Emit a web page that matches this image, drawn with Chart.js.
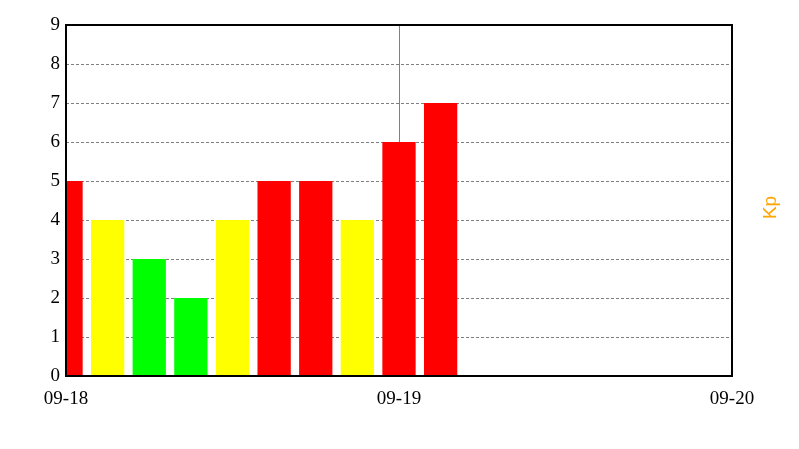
<!DOCTYPE html>
<html>
<head>
<meta charset="utf-8">
<script src="https://cdn.jsdelivr.net/npm/chart.js@4/dist/chart.umd.min.js"></script>
<style>
  body { margin: 0; background: #fff; }
  #wrap { width: 799px; height: 449px; }
</style>
</head>
<body>
<div id="wrap"><canvas id="kpChart" width="799" height="449"></canvas></div>
<script>
// hours since 09-18 00:00, one bar per 3-hour Kp interval
const hours = [0, 3, 6, 9, 12, 15, 18, 21, 24, 27];
const kpValues = [5, 4, 3, 2, 4, 5, 5, 4, 6, 7];
const dateLabels = ['09-18', '09-19', '09-20'];
const yTicks = [0, 1, 2, 3, 4, 5, 6, 7, 8, 9];

function kpColor(v) {
  if (v >= 5) return '#ff0000';
  if (v >= 4) return '#ffff00';
  return '#00ff00';
}

// black frame round the plot + the rotated Kp title on the right
const framePlugin = {
  id: 'frame',
  afterDraw(chart) {
    const { ctx, chartArea: a } = chart;
    ctx.save();
    ctx.strokeStyle = '#000';
    ctx.lineWidth = 2;
    ctx.strokeRect(a.left, a.top, a.right - a.left, a.bottom - a.top);
    ctx.translate(771, (a.top + a.bottom) / 2 + 7);
    ctx.rotate(-Math.PI / 2);
    ctx.fillStyle = '#ffa500';
    ctx.font = '19px "Liberation Sans", Arial, sans-serif';
    ctx.textAlign = 'center';
    ctx.textBaseline = 'middle';
    ctx.fillText('Kp', 0, 0);
    ctx.restore();
  }
};

const ctxKp = document.getElementById('kpChart').getContext('2d');

const kpChart = new Chart(ctxKp, {
  type: 'bar',
  data: {
    datasets: [{
      label: 'Kp',
      data: hours.map((h, i) => ({ x: h, y: kpValues[i] })),
      backgroundColor: kpValues.map(kpColor),
      borderWidth: 0,
      barPercentage: 0.8,
      categoryPercentage: 1.0,
    }]
  },
  options: {
    responsive: false,
    animation: false,
    layout: {
      padding: { top: 25, right: 67, left: 0, bottom: 0 }
    },
    plugins: {
      legend: { display: false },
      tooltip: { enabled: false },
    },
    scales: {
      x: {
        type: 'linear',
        min: 0,
        max: 48,
        offset: false,
        afterFit: (scale) => { scale.height = 73; },
        border: { display: false },
        grid: {
          offset: false,
          drawTicks: false,
          color: (c) => (c.tick && c.tick.value === 24 ? '#808080' : 'rgba(0,0,0,0)'),
          lineWidth: 1,
        },
        ticks: {
          stepSize: 24,
          padding: 12,
          color: '#000',
          font: { family: '"Liberation Serif", "Times New Roman", serif', size: 19 },
          maxRotation: 0,
          callback: (v) => dateLabels[v / 24],
        }
      },
      y: {
        min: 0,
        max: 9,
        afterFit: (scale) => { scale.width = 66; },
        grid: {
          drawTicks: false,
          color: '#808080',
          lineWidth: 1,
        },
        border: { display: false, dash: [3, 2] },
        ticks: {
          stepSize: 1,
          padding: 6,
          color: '#000',
          font: { family: '"Liberation Serif", "Times New Roman", serif', size: 19 },
          callback: (v) => yTicks[v],
        }
      }
    }
  },
  plugins: [framePlugin]
});
</script>
</body>
</html>
